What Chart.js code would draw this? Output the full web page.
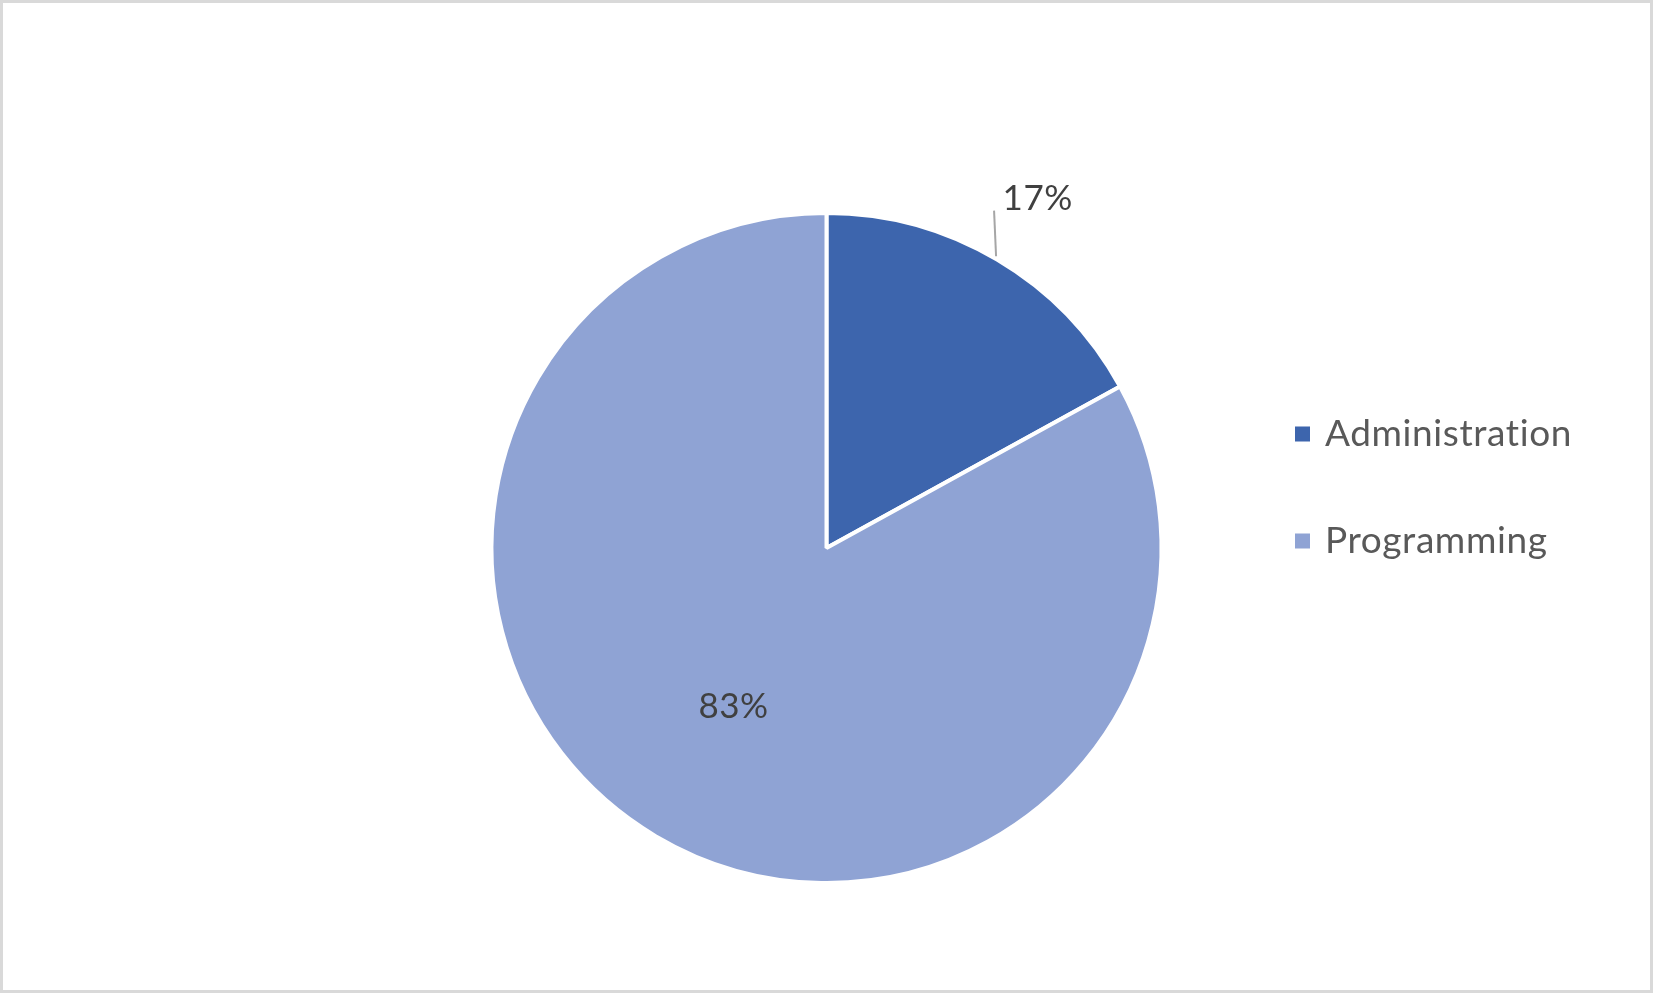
<!DOCTYPE html>
<html>
<head>
<meta charset="utf-8">
<script src="https://cdn.jsdelivr.net/npm/chart.js@4.4.0/dist/chart.umd.min.js"></script>
<style>
    body { margin: 0; background: #fff; }
    #wrap { position: relative; width: 1653px; height: 993px; }
    #grafico { position: absolute; left: 0; top: 0; }
</style>
</head>
<body>
<div id="wrap">
    <canvas id="grafico" width="1653" height="993"></canvas>
</div>
<script>
const categorias = ['Administration', 'Programming'];
const valores = [17, 83];
const cores = ['#3d65ad', '#8fa3d4'];

const fonte = 'Lato, "Open Sans", sans-serif';

// borda cinza em volta da imagem
const bordaPlugin = {
    id: 'borda',
    beforeDraw(chart) {
        const ctx = chart.ctx;
        ctx.save();
        ctx.fillStyle = '#fff';
        ctx.fillRect(0, 0, chart.width, chart.height);
        ctx.strokeStyle = '#d9d9d9';
        ctx.lineWidth = 3;
        ctx.strokeRect(1.5, 1.5, chart.width - 3, chart.height - 3);
        ctx.restore();
    }
};

// rotulos de porcentagem
const rotulosPlugin = {
    id: 'rotulos',
    afterDatasetsDraw(chart) {
        const ctx = chart.ctx;
        const meta = chart.getDatasetMeta(0);
        const dados = chart.data.datasets[0].data;
        const total = dados.reduce((a, b) => a + b, 0);
        ctx.save();
        ctx.font = '35px ' + fonte;
        ctx.letterSpacing = '0.5px';
        ctx.fillStyle = '#404040';
        ctx.textBaseline = 'middle';
        meta.data.forEach((arc, i) => {
            const p = arc.getProps(['x', 'y', 'startAngle', 'endAngle', 'outerRadius'], true);
            const meio = (p.startAngle + p.endAngle) / 2;
            const pct = Math.round(dados[i] / total * 100) + '%';
            if (dados[i] / total < 0.25) {
                const ex = p.x + Math.cos(meio) * (p.outerRadius + 4);
                const ey = p.y + Math.sin(meio) * (p.outerRadius + 4);
                const lx = p.x + Math.cos(meio) * p.outerRadius * 1.215;
                const ly = p.y + Math.sin(meio) * p.outerRadius * 1.215 + 1;
                ctx.strokeStyle = '#a6a6a6';
                ctx.lineWidth = 2;
                ctx.beginPath();
                ctx.moveTo(ex - 3, ey);
                ctx.lineTo(ex - 5, ly + 12);
                ctx.stroke();
                ctx.textAlign = 'center';
                ctx.fillText(pct, lx + 4, ly);
            } else {
                const lx = p.x + Math.cos(meio) * p.outerRadius * 0.545;
                const ly = p.y + Math.sin(meio) * p.outerRadius * 0.545 + 2;
                ctx.textAlign = 'center';
                ctx.fillText(pct, lx, ly);
            }
        });
        ctx.restore();
    }
};

// legenda desenhada a direita
const legendaPlugin = {
    id: 'legenda',
    afterDraw(chart) {
        const ctx = chart.ctx;
        const cats = chart.data.labels;
        const bg = chart.data.datasets[0].backgroundColor;
        ctx.save();
        ctx.font = '37px ' + fonte;
        ctx.letterSpacing = '0.6px';
        ctx.textBaseline = 'middle';
        ctx.textAlign = 'left';
        cats.forEach((c, i) => {
            const y = 434 + i * 107;
            ctx.fillStyle = bg[i];
            ctx.fillRect(1295, y - 7.5, 15, 15);
            ctx.fillStyle = '#595959';
            ctx.fillText(c, 1325, y);
        });
        ctx.restore();
    }
};

const ctx = document.getElementById('grafico').getContext('2d');
const chart = new Chart(ctx, {
    type: 'pie',
    data: {
        labels: categorias,
        datasets: [{
            data: valores,
            backgroundColor: cores,
            borderColor: '#ffffff',
            borderWidth: 4,
            hoverOffset: 0
        }]
    },
    options: {
        responsive: false,
        animation: false,
        layout: {
            padding: { left: 300, right: 300, top: 211, bottom: 108 }
        },
        plugins: {
            legend: { display: false },
            tooltip: { enabled: false }
        }
    },
    plugins: [bordaPlugin, rotulosPlugin, legendaPlugin]
});
</script>
</body>
</html>
